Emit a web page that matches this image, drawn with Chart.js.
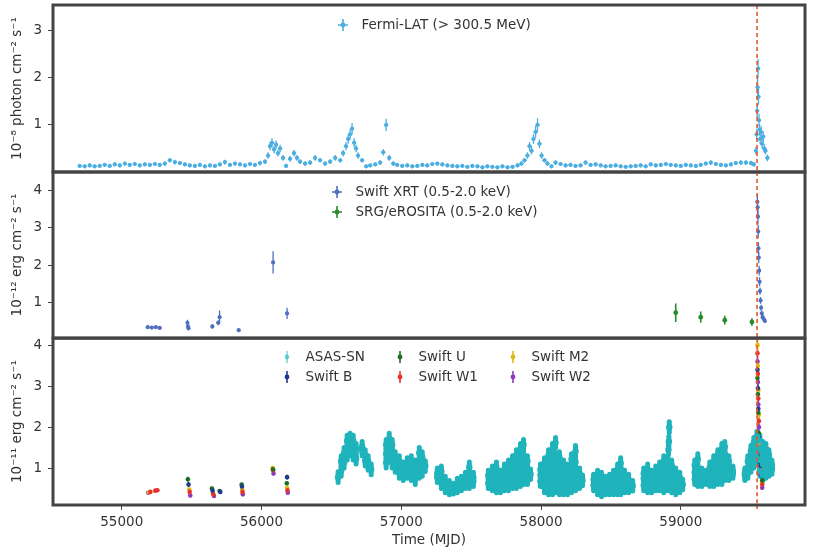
<!DOCTYPE html>
<html>
<head>
<meta charset="utf-8">
<script src="https://cdn.jsdelivr.net/npm/chart.js@4.4.1/dist/chart.umd.min.js"></script>
<style>
  body { margin: 0; background: #fff; }
  #wrap { position: relative; width: 813px; height: 550px; }
  canvas { position: absolute; left: 0; }
</style>
</head>
<body>
<div id="wrap">
  <canvas id="fermi" width="813" height="175" style="top:0px"></canvas>
  <canvas id="xray" width="813" height="172" style="top:169px"></canvas>
  <canvas id="optical" width="813" height="215" style="top:335px"></canvas>
</div>
<script>
// ---- data: [MJD, flux, error] ----
const X_RANGE = [54508, 59889];
const X_TICKS = [55000, 56000, 57000, 58000, 59000];
const ONSET_MJD = 59546;

const fermiLAT = [
  [54699,.13,.04],[54735,.12,.04],[54771,.14,.04],[54806,.12,.04],[54842,.13,.04],[54878,.15,.04],
  [54914,.13,.04],[54950,.16,.04],[54986,.14,.04],[55022,.18,.04],[55057,.15,.04],[55093,.17,.04],
  [55129,.14,.04],[55165,.16,.04],[55201,.15,.04],[55237,.17,.04],[55272,.15,.04],[55308,.18,.05],
  [55344,.25,.05],[55380,.21,.05],[55416,.19,.04],[55452,.16,.04],[55487,.14,.04],[55523,.13,.04],
  [55559,.15,.04],[55595,.12,.04],[55631,.14,.04],[55667,.13,.04],[55702,.16,.04],[55738,.21,.05],
  [55774,.15,.04],[55810,.18,.04],[55846,.16,.04],[55882,.14,.04],[55918,.17,.04],[55953,.15,.04],
  [55989,.19,.05],[56025,.22,.05],[56047,.35,.07],[56061,.55,.09],[56075,.62,.1],[56090,.48,.08],
  [56104,.58,.09],[56118,.40,.07],[56133,.50,.08],[56154,.30,.06],[56176,.13,.04],[56204,.28,.06],
  [56233,.40,.07],[56254,.30,.06],[56276,.22,.05],[56312,.18,.05],[56348,.20,.05],[56383,.30,.06],
  [56419,.25,.05],[56455,.18,.05],[56491,.22,.05],[56527,.30,.06],[56563,.25,.05],[56584,.40,.07],
  [56605,.55,.09],[56620,.70,.1],[56634,.80,.11],[56648,.92,.12],[56663,.62,.1],[56677,.50,.08],
  [56691,.35,.07],[56720,.25,.05],[56749,.12,.04],[56778,.14,.04],[56814,.16,.04],[56849,.20,.05],
  [56871,.42,.07],[56892,1.0,.13],[56914,.30,.06],[56943,.18,.05],[56971,.15,.04],[57007,.13,.04],
  [57043,.14,.04],[57079,.12,.04],[57115,.13,.04],[57151,.15,.04],[57186,.14,.04],[57222,.17,.04],
  [57258,.18,.04],[57294,.16,.04],[57330,.14,.04],[57366,.13,.04],[57401,.12,.04],[57437,.13,.04],
  [57473,.11,.04],[57509,.13,.04],[57545,.12,.04],[57581,.10,.04],[57616,.12,.04],[57652,.11,.04],
  [57688,.10,.04],[57724,.12,.04],[57760,.10,.04],[57796,.11,.04],[57832,.14,.04],[57860,.18,.05],
  [57882,.25,.05],[57903,.35,.07],[57918,.55,.09],[57932,.45,.08],[57946,.70,.1],[57961,.85,.12],
  [57975,1.0,.14],[57989,.60,.09],[58004,.35,.07],[58025,.25,.05],[58046,.18,.05],[58075,.12,.04],
  [58104,.20,.05],[58140,.17,.04],[58176,.14,.04],[58211,.15,.04],[58247,.13,.04],[58283,.14,.04],
  [58319,.20,.05],[58355,.15,.04],[58391,.16,.04],[58427,.14,.04],[58462,.12,.04],[58498,.13,.04],
  [58534,.14,.04],[58570,.12,.04],[58606,.11,.04],[58642,.12,.04],[58677,.13,.04],[58713,.14,.04],
  [58749,.12,.04],[58785,.16,.04],[58821,.14,.04],[58857,.15,.04],[58893,.17,.04],[58928,.15,.04],
  [58964,.14,.04],[59000,.13,.04],[59036,.15,.04],[59072,.14,.04],[59108,.13,.04],[59143,.15,.04],
  [59179,.18,.04],[59215,.20,.05],[59251,.17,.04],[59287,.15,.04],[59323,.14,.04],[59359,.16,.04],
  [59394,.19,.04],[59430,.20,.05],[59466,.20,.05],[59502,.19,.05],[59523,.16,.05],[59538,.45,.08],
  [59543,.80,.12],[59547,1.3,.15],[59550,1.8,.18],[59553,2.2,.2],[59556,1.6,.17],[59560,1.1,.14],
  [59564,.90,.12],[59568,.70,.11],[59575,.85,.12],[59582,.60,.1],[59590,.75,.11],[59598,.50,.09],
  [59606,.45,.08],[59620,.30,.07]
];

const swiftXRT = [
  [55186,.33,.04],[55215,.32,.04],[55244,.33,.04],[55272,.31,.04],[55470,.45,.08],[55474,.35,.06],
  [55478,.30,.05],[55648,.35,.06],[55690,.45,.07],[55700,.60,.18],[55837,.25,.04],[56083,2.07,.3],
  [56183,.70,.15],
  [59548,3.70,.2],[59550,3.55,.2],[59552,3.30,.2],[59554,2.90,.18],[59556,2.45,.16],[59558,2.20,.15],
  [59561,1.85,.13],[59564,1.55,.12],[59567,1.30,.1],[59571,1.05,.09],[59575,.85,.08],[59580,.70,.07],
  [59586,.60,.06],[59593,.55,.06],[59602,.50,.06]
];

const eROSITA = [[58964,.72,.25],[59143,.60,.15],[59315,.52,.12],[59509,.47,.1]];

// ASAS-SN seasons: [MJD, flux]; typical error
const ASAS_ERR = 0.13;
const asasSN = [
  [56548,.78],[56570,.93],[56570,1.17],[56591,1.13],[56591,1.37],[56613,1.33],[56613,1.5],[56613,1.67],
  [56634,1.43],[56634,1.72],[56656,1.33],[56656,1.5],[56656,1.67],[56677,1.23],[56677,1.47],[56720,1.43],
  [56720,1.52],[56742,1.18],[56742,1.32],[56763,1.08],[56763,1.17],[56785,.97],
  [56892,1.13],[56892,1.35],[56892,1.57],[56914,1.33],[56914,1.52],[56914,1.72],[56935,1.13],[56935,1.35],
  [56935,1.57],[56957,1.03],[56957,1.27],[56986,.88],[56986,1.17],[57014,.83],[57014,1.02],[57043,.88],
  [57043,1.12],[57072,.83],[57072,1.0],[57072,1.17],[57100,.73],[57100,.9],[57100,1.07],[57129,.88],
  [57129,1.12],[57129,1.37],[57150,.93],[57150,1.1],[57150,1.27],[57172,1.05],
  [57258,.78],[57258,.87],[57287,.63],[57287,.92],[57315,.53],[57315,.67],[57344,.48],[57344,.57],
  [57373,.5],[57401,.53],[57401,.62],[57430,.58],[57430,.67],[57459,.63],[57459,.77],[57487,.63],
  [57487,.83],[57487,1.02],[57516,.68],[57516,.77],
  [57623,.63],[57623,.82],[57652,.58],[57652,.75],[57652,.92],[57681,.53],[57681,.78],[57681,1.02],
  [57710,.53],[57710,.82],[57738,.58],[57738,.78],[57738,.97],[57767,.58],[57767,.82],[57767,1.07],
  [57796,.63],[57796,.9],[57796,1.17],[57824,.63],[57824,.85],[57824,1.1],[57824,1.32],[57853,.68],
  [57853,.92],[57853,1.23],[57853,1.47],[57875,.73],[57875,1.0],[57875,1.3],[57875,1.57],[57903,.73],
  [57903,.95],[57903,1.17],[57925,.85],
  [57996,.68],[57996,.83],[57996,.97],[58025,.53],[58025,.82],[58025,1.12],[58054,.48],[58054,.75],
  [58054,1.05],[58054,1.32],[58082,.48],[58082,.78],[58082,1.15],[58082,1.47],[58104,.53],[58104,.9],
  [58104,1.25],[58104,1.62],[58132,.48],[58132,.75],[58132,1.02],[58132,1.27],[58161,.48],[58161,.82],
  [58161,1.07],[58190,.48],[58190,.72],[58190,.97],[58218,.53],[58218,.82],[58218,1.07],[58218,1.22],
  [58247,.58],[58247,.88],[58247,1.15],[58247,1.42],[58276,.63],[58276,.87],[58297,.7],
  [58376,.58],[58376,.72],[58405,.48],[58405,.65],[58405,.82],[58433,.43],[58433,.6],[58433,.77],
  [58462,.48],[58462,.67],[58491,.48],[58491,.72],[58519,.48],[58519,.65],[58519,.82],[58548,.48],
  [58548,.72],[58548,.97],[58570,.48],[58570,.75],[58570,.98],[58570,1.12],[58598,.53],[58598,.68],
  [58598,.82],[58627,.53],[58627,.72],[58656,.57],
  [58735,.58],[58735,.75],[58735,.87],[58763,.53],[58763,.75],[58763,.97],[58792,.53],[58792,.68],
  [58792,.82],[58821,.58],[58821,.75],[58821,.92],[58849,.58],[58849,.8],[58849,1.02],[58878,.53],
  [58878,.78],[58878,1.0],[58878,1.17],[58907,.58],[58907,.82],[58907,1.12],[58912,1.45],[58915,1.65],
  [58918,2.0],[58935,.53],[58935,.8],[58935,1.07],[58964,.48],[58964,.68],[58964,.87],[58993,.53],
  [58993,.77],[59014,.6],
  [59100,.73],[59100,.9],[59100,1.07],[59122,.68],[59122,.95],[59122,1.22],[59151,.68],[59151,.87],
  [59179,.73],[59179,.82],[59208,.68],[59208,.85],[59208,1.02],[59236,.68],[59236,.92],[59236,1.17],
  [59265,.73],[59265,.97],[59265,1.2],[59265,1.32],[59294,.73],[59294,1.0],[59294,1.25],[59294,1.47],
  [59315,.83],[59315,1.1],[59315,1.35],[59315,1.52],[59344,.83],[59344,1.0],[59344,1.17],[59373,.88],
  [59373,.92],
  [59459,.83],[59459,.87],[59480,.88],[59480,1.17],[59502,1.03],[59502,1.22],[59502,1.42],[59523,1.13],
  [59523,1.38],[59523,1.62],[59545,1.23],[59545,1.5],[59545,1.77],[59566,.93],[59566,1.2],[59566,1.45],
  [59566,1.67],[59588,.83],[59588,1.1],[59588,1.32],[59588,1.52],[59609,.88],[59609,1.12],[59609,1.35],
  [59609,1.47],[59631,.93],[59631,1.15],[59631,1.32],[59652,.98],[59652,1.07]
];

const swiftB = [
  [55478,.60,.06],[55650,.45,.05],[55705,.42,.05],[55860,.55,.05],[56183,.78,.06],
  [59549,3.40,.12],[59552,2.95,.11],[59555,2.45,.1],[59559,1.75,.08],[59564,1.15,.07],[59571,1.05,.06],[59583,.80,.05]
];
const swiftU = [
  [55473,.73,.06],[55645,.50,.05],[55700,.44,.05],[55858,.60,.05],[56082,.97,.06],[56181,.63,.05],
  [59549,3.20,.12],[59552,2.80,.1],[59555,2.35,.1],[59559,1.85,.08],[59564,1.25,.07],[59571,.90,.06],[59583,.70,.05]
];
const swiftW1 = [
  [55205,.42,.04],[55240,.45,.04],[55255,.46,.04],[55486,.42,.05],[55655,.36,.04],[55864,.42,.04],
  [56083,.95,.06],[56186,.46,.04],
  [59549,3.80,.12],[59552,3.30,.11],[59555,2.70,.1],[59559,2.15,.09],[59564,1.50,.07],[59571,.95,.06],[59583,.60,.05]
];
const swiftM2 = [
  [55195,.41,.04],[55483,.48,.05],[55652,.40,.04],[55862,.48,.04],[56080,1.00,.06],[56183,.52,.04],
  [59549,4.00,.13],[59552,3.50,.12],[59555,2.90,.1],[59559,2.30,.09],[59564,1.60,.07],[59571,1.00,.06],[59583,.65,.05]
];
const swiftW2 = [
  [55190,.40,.04],[55490,.33,.04],[55660,.32,.04],[55866,.36,.04],[56086,.87,.05],[56188,.40,.04],
  [59549,3.60,.12],[59552,3.10,.11],[59555,2.55,.1],[59559,2.00,.08],[59564,1.40,.07],[59571,.85,.06],[59583,.52,.05]
];

const C = {
  fermi: '#4aaee2', xrt: '#4f6fc0', erosita: '#2b8a2b', asas: '#1fb3bc',
  b: '#1f3a8f', u: '#1f6f22', w1: '#e5352b', m2: '#dcbc12', w2: '#8c3cbc',
  text: '#333', frame: '#444', onset: '#e4572e'
};

Chart.defaults.font.family = "'DejaVu Sans', sans-serif";
Chart.defaults.font.size = 13.5;
Chart.defaults.color = C.text;

// rows -> chart points
function pts(rows, xe) {
  return rows.map(r => ({ x: r[0], y: r[1], e: r[2], xe: xe || 0 }));
}
function asasPts(rows) {
  return rows.map(r => ({ x: r[0], y: r[1], e: ASAS_ERR, xe: 0 }));
}

// vertical / horizontal error bars drawn under the markers
const errorBars = {
  id: 'errorBars',
  beforeDatasetsDraw(chart) {
    const { ctx, chartArea: a, scales: { x, y } } = chart;
    ctx.save();
    ctx.beginPath();
    ctx.rect(a.left, a.top, a.right - a.left, a.bottom - a.top);
    ctx.clip();
    chart.data.datasets.forEach(ds => {
      ctx.strokeStyle = ds.backgroundColor;
      ctx.lineWidth = ds.barWidth || 1.3;
      ctx.lineCap = ds.barWidth > 3 ? 'round' : 'butt';
      ds.data.forEach(p => {
        const px = x.getPixelForValue(p.x), py = y.getPixelForValue(p.y);
        ctx.beginPath();
        ctx.moveTo(px, y.getPixelForValue(p.y - p.e));
        ctx.lineTo(px, y.getPixelForValue(p.y + p.e));
        if (p.xe) {
          ctx.moveTo(x.getPixelForValue(p.x - p.xe), py);
          ctx.lineTo(x.getPixelForValue(p.x + p.xe), py);
        }
        ctx.stroke();
      });
    });
    ctx.restore();
  }
};

// thick panel frame + dashed onset line
const frame = {
  id: 'frame',
  afterDraw(chart, args, opts) {
    const { ctx, chartArea: a, scales: { x } } = chart;
    ctx.save();
    const ox = x.getPixelForValue(ONSET_MJD);
    ctx.strokeStyle = C.onset;
    ctx.lineWidth = 1.6;
    ctx.setLineDash([4, 3]);
    ctx.beginPath();
    ctx.moveTo(ox, a.top);
    ctx.lineTo(ox, opts.bottomExtra ? a.bottom + 4 : a.bottom);
    ctx.stroke();
    ctx.setLineDash([]);
    ctx.strokeStyle = C.frame;
    ctx.lineWidth = 3;
    ctx.strokeRect(a.left, a.top, a.right - a.left, a.bottom - a.top);
    ctx.restore();
  }
};

// matplotlib-like legend inside the axes, column-major
const panelLegend = {
  id: 'panelLegend',
  afterDraw(chart, args, opts) {
    if (!opts.items) return;
    const ctx = chart.ctx;
    ctx.save();
    ctx.font = "13.5px 'DejaVu Sans', sans-serif";
    ctx.textBaseline = 'middle';
    opts.items.forEach((it, i) => {
      const col = Math.floor(i / opts.rows), row = i % opts.rows;
      const mx = opts.x[col], my = opts.y + row * opts.rowH;
      ctx.strokeStyle = it.color;
      ctx.fillStyle = it.color;
      ctx.globalAlpha = it.alpha || 1;
      ctx.lineWidth = 1.6;
      ctx.beginPath();
      ctx.moveTo(mx, my - 6); ctx.lineTo(mx, my + 6);
      if (opts.plus) { ctx.moveTo(mx - 5, my); ctx.lineTo(mx + 5, my); }
      ctx.stroke();
      ctx.beginPath();
      ctx.arc(mx, my, 2.4, 0, Math.PI * 2);
      ctx.fill();
      ctx.globalAlpha = 1;
      ctx.fillStyle = C.text;
      ctx.fillText(it.label, mx + 18.5, my + 0.5);
    });
    ctx.restore();
  }
};

function ds(label, data, color, radius, barWidth) {
  return { label, data, backgroundColor: color, borderWidth: 0, pointRadius: radius,
           pointHoverRadius: radius, barWidth };
}

function panel(id, datasets, y, legend, pad, withX) {
  return new Chart(document.getElementById(id), {
    type: 'scatter',
    data: { datasets },
    options: {
      responsive: false,
      animation: false,
      events: [],
      layout: { padding: { left: 0, right: 8, top: pad[0], bottom: pad[1] } },
      plugins: {
        legend: { display: false },
        tooltip: { enabled: false },
        panelLegend: legend,
        frame: { bottomExtra: withX }
      },
      scales: {
        x: {
          type: 'linear', min: X_RANGE[0], max: X_RANGE[1],
          display: withX,
          afterBuildTicks: s => { s.ticks = X_TICKS.map(v => ({ value: v })); },
          afterFit: s => {
            s.paddingLeft = 0; s.paddingRight = 0;
            if (withX) s.height = 45;
          },
          grid: { drawOnChartArea: false, tickLength: 5, color: C.frame },
          border: { display: false },
          ticks: { padding: 4, maxRotation: 0, callback: v => String(v) },
          title: { display: true, text: 'Time (MJD)', padding: { top: 0, bottom: 1 } }
        },
        y: {
          min: y.min, max: y.max,
          afterBuildTicks: s => { s.ticks = y.ticks.map(v => ({ value: v })); },
          afterFit: s => { s.width = 53; s.paddingTop = 0; s.paddingBottom = 0; },
          grid: { drawOnChartArea: false, tickLength: 5, color: C.frame },
          border: { display: false },
          ticks: { padding: 6 },
          title: { display: true, text: y.title, padding: { top: 9, bottom: 0 } }
        }
      }
    },
    plugins: [errorBars, frame, panelLegend]
  });
}

panel('fermi',
  [ds('Fermi-LAT (> 300.5 MeV)', pts(fermiLAT, 14), C.fermi, 2.1, 1.3)],
  { min: 0, max: 3.55, ticks: [1, 2, 3], title: '10\u207B\u2078 photon cm\u207B\u00B2 s\u207B\u00B9' },
  { items: [{ label: 'Fermi-LAT (> 300.5 MeV)', color: C.fermi }], rows: 1, x: [343], y: 25, rowH: 20, plus: true },
  [5, 3], false);

panel('xray',
  [ds('Swift XRT (0.5-2.0 keV)', pts(swiftXRT, 5), C.xrt, 2.1, 1.3),
   ds('SRG/eROSITA (0.5-2.0 keV)', pts(eROSITA, 5), C.erosita, 2.4, 1.6)],
  { min: 0.04, max: 4.5, ticks: [1, 2, 3, 4], title: '10\u207B\u00B9\u00B2 erg cm\u207B\u00B2 s\u207B\u00B9' },
  { items: [{ label: 'Swift XRT (0.5-2.0 keV)', color: C.xrt }, { label: 'SRG/eROSITA (0.5-2.0 keV)', color: C.erosita }],
    rows: 2, x: [337], y: 23, rowH: 20, plus: true },
  [3, 3], false);

panel('optical',
  [ds('ASAS-SN', asasPts(asasSN), C.asas, 3.2, 5),
   ds('Swift B', pts(swiftB), C.b, 2.3, 1.5),
   ds('Swift U', pts(swiftU), C.u, 2.3, 1.5),
   ds('Swift W1', pts(swiftW1), C.w1, 2.3, 1.5),
   ds('Swift M2', pts(swiftM2), C.m2, 2.3, 1.5),
   ds('Swift W2', pts(swiftW2), C.w2, 2.3, 1.5)],
  { min: 0.1, max: 4.17, ticks: [1, 2, 3, 4], title: '10\u207B\u00B9\u00B9 erg cm\u207B\u00B2 s\u207B\u00B9' },
  { items: [{ label: 'ASAS-SN', color: C.asas, alpha: 0.55 }, { label: 'Swift B', color: C.b },
            { label: 'Swift U', color: C.u }, { label: 'Swift W1', color: C.w1 },
            { label: 'Swift M2', color: C.m2 }, { label: 'Swift W2', color: C.w2 }],
    rows: 2, x: [287, 400, 513], y: 22, rowH: 20, plus: false },
  [3, 0], true);
</script>
</body>
</html>
